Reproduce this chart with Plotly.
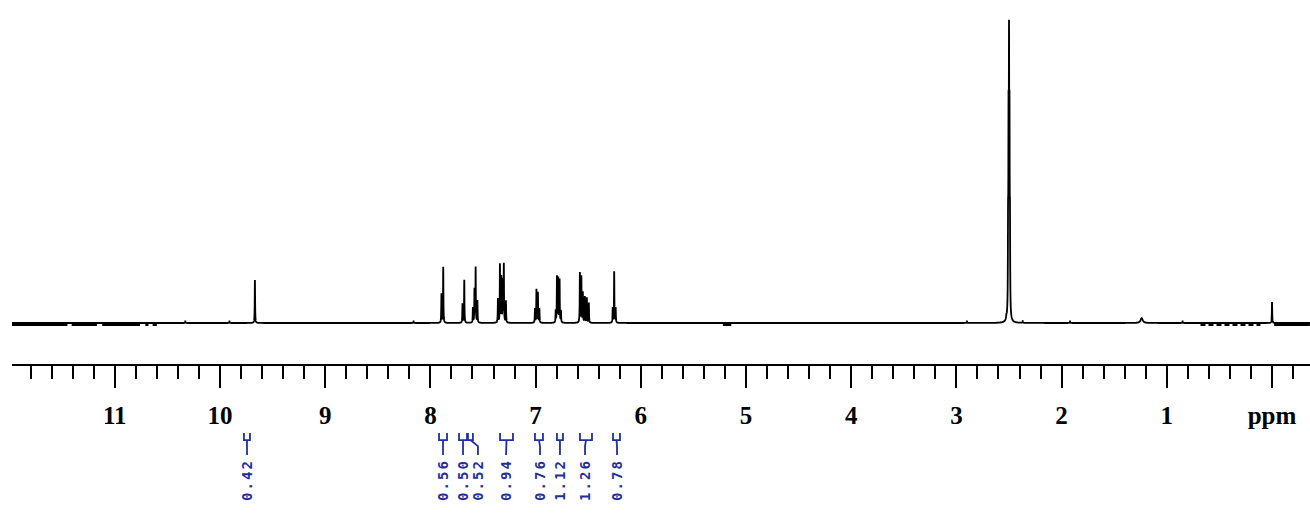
import numpy as np
import plotly.graph_objects as go

# ---- 1H NMR peak list (DMSO-d6): shift / relative intensity (solvent = 100) / half-width ----
peak_ppm = [10.33, 9.91, 9.668, 8.16,
            7.895, 7.878,
            7.695, 7.678,
            7.596, 7.581, 7.570, 7.553,
            7.358, 7.339, 7.326, 7.313, 7.302, 7.282,
            7.006, 6.992, 6.978, 6.964,
            6.809, 6.797, 6.785, 6.772, 6.759,
            6.579, 6.565, 6.551, 6.532, 6.513, 6.494,
            6.267, 6.253, 6.239,
            2.90, 2.525, 2.509, 2.5045, 2.500, 2.500, 2.4955, 2.491, 2.37,
            1.92, 1.239, 0.85, 0.000]
peak_int = [0.7, 0.7, 14.1, 0.7,
            9.5, 18.4,
            6.3, 14.1,
            4.9, 10.9, 18.1, 7.2,
            7.9, 19.1, 14.8, 13.8, 19.1, 7.2,
            4.6, 10.9, 9.9, 4.6,
            3.9, 15.1, 14.5, 14.1, 3.9,
            16.4, 15.1, 9.9, 8.6, 8.2, 6.6,
            4.9, 16.8, 4.9,
            0.7, 1.0, 25.0, 54.0, 74.6, 5.0, 54.0, 25.0, 0.7,
            0.7, 1.6, 0.7, 6.9]
peak_hw = [0.002] * 37 + [0.004, 0.002, 0.002, 0.002, 0.006, 0.002, 0.002, 0.002,
                          0.002, 0.012, 0.002, 0.002]

# baseline stretches drawn with a heavier stroke (noise bands)
noise_from = [11.98, 11.41, 11.12, 10.71, 10.64, 5.22, -0.02]
noise_to = [11.45, 11.17, 10.76, 10.68, 10.60, 5.14, -0.36]
dashed_from = [0.68]
dashed_to = [0.11]

# ---- integrals ----
int_values = ["0.42", "0.56", "0.50", "0.52", "0.94", "0.76", "1.12", "1.26", "0.78"]
int_stem = [9.743, 7.880, 7.690, 7.548, 7.281, 6.958, 6.768, 6.530, 6.226]
int_from = [9.772, 7.918, 7.728, 7.643, 7.338, 7.006, 6.797, 6.578, 6.264]
int_to = [9.715, 7.842, 7.652, 7.596, 7.215, 6.930, 6.740, 6.464, 6.198]

# ---- axis ----
tick_vals = [0, 1, 2, 3, 4, 5, 6, 7, 8, 9, 10, 11]
tick_text = ["ppm", "1", "2", "3", "4", "5", "6", "7", "8", "9", "10", "11"]
ppm_left, ppm_right = 11.977, -0.361

# Lorentzian line shapes summed on a fine shift grid
grid = np.arange(ppm_right, ppm_left, 0.0005)
spec = np.zeros_like(grid)
for c, h, w in zip(peak_ppm, peak_int, peak_hw):
    spec += h * w * w / ((grid - c) ** 2 + w * w)

fig = go.Figure()
fig.add_trace(go.Scatter(x=grid, y=spec, mode="lines",
                         line=dict(color="black", width=1.8, simplify=False),
                         hoverinfo="skip", showlegend=False))

nx, ny = [], []
for a, b in zip(noise_from, noise_to):
    nx += [a, b, None]
    ny += [-0.5, -0.5, None]
fig.add_trace(go.Scatter(x=nx, y=ny, mode="lines", line=dict(color="black", width=3),
                         hoverinfo="skip", showlegend=False))
dx, dy = [], []
for a, b in zip(dashed_from, dashed_to):
    dx += [a, b, None]
    dy += [-0.5, -0.5, None]
fig.add_trace(go.Scatter(x=dx, y=dy, mode="lines",
                         line=dict(color="black", width=3, dash="5px,3px"),
                         hoverinfo="skip", showlegend=False))

# integral brackets below the axis
blue = "#1f2f9f"
y_top, y_bar, y_join, y_end, y_text = -36.2, -38.5, -40.5, -43.4, -51.6
bx, by = [], []
for s, a, b in zip(int_stem, int_from, int_to):
    mid = (a + b) / 2
    bx += [a, a, b, b, None, mid, s, s, None]
    by += [y_top, y_bar, y_bar, y_top, None, y_bar, y_join, y_end, None]
fig.add_trace(go.Scatter(x=bx, y=by, mode="lines", line=dict(color=blue, width=1.8),
                         hoverinfo="skip", showlegend=False))
for s, t in zip(int_stem, int_values):
    fig.add_annotation(x=s, y=y_text, xref="x", yref="y", showarrow=False,
                       text='<span style="letter-spacing:2px">' + t + "</span>",
                       textangle=-90, xanchor="center", yanchor="middle",
                       font=dict(family="DejaVu Sans Mono, Liberation Mono, monospace",
                                 size=14, color=blue, weight="bold"))

# vertical layout: plot area spans y=10..519 px, axis line sits at 365 px
top_m, height = 10, 519
plot_h = height - top_m
y_lo, y_hi = -64.47, 102.96
axis_pos = (height - 365) / plot_h

fig.update_layout(
    width=1310, height=519,
    margin=dict(l=12, r=0, t=top_m, b=0),
    paper_bgcolor="white", plot_bgcolor="white",
    showlegend=False,
    xaxis=dict(range=[ppm_left, ppm_right], anchor="free", position=axis_pos,
               showline=True, linecolor="black", linewidth=2,
               showgrid=False, zeroline=False,
               tickmode="array", tickvals=tick_vals, ticktext=tick_text,
               ticks="outside", ticklen=22, tickwidth=2, tickcolor="black",
               ticklabelstandoff=6,
               tickfont=dict(family="Liberation Serif, serif", size=25, color="black",
                             weight="bold"),
               minor=dict(tick0=0, dtick=0.2, ticks="outside", ticklen=13,
                          tickwidth=2, tickcolor="black", showgrid=False)),
    yaxis=dict(range=[y_lo, y_hi], visible=False, showgrid=False, zeroline=False),
)

fig.write_html("out.html")
